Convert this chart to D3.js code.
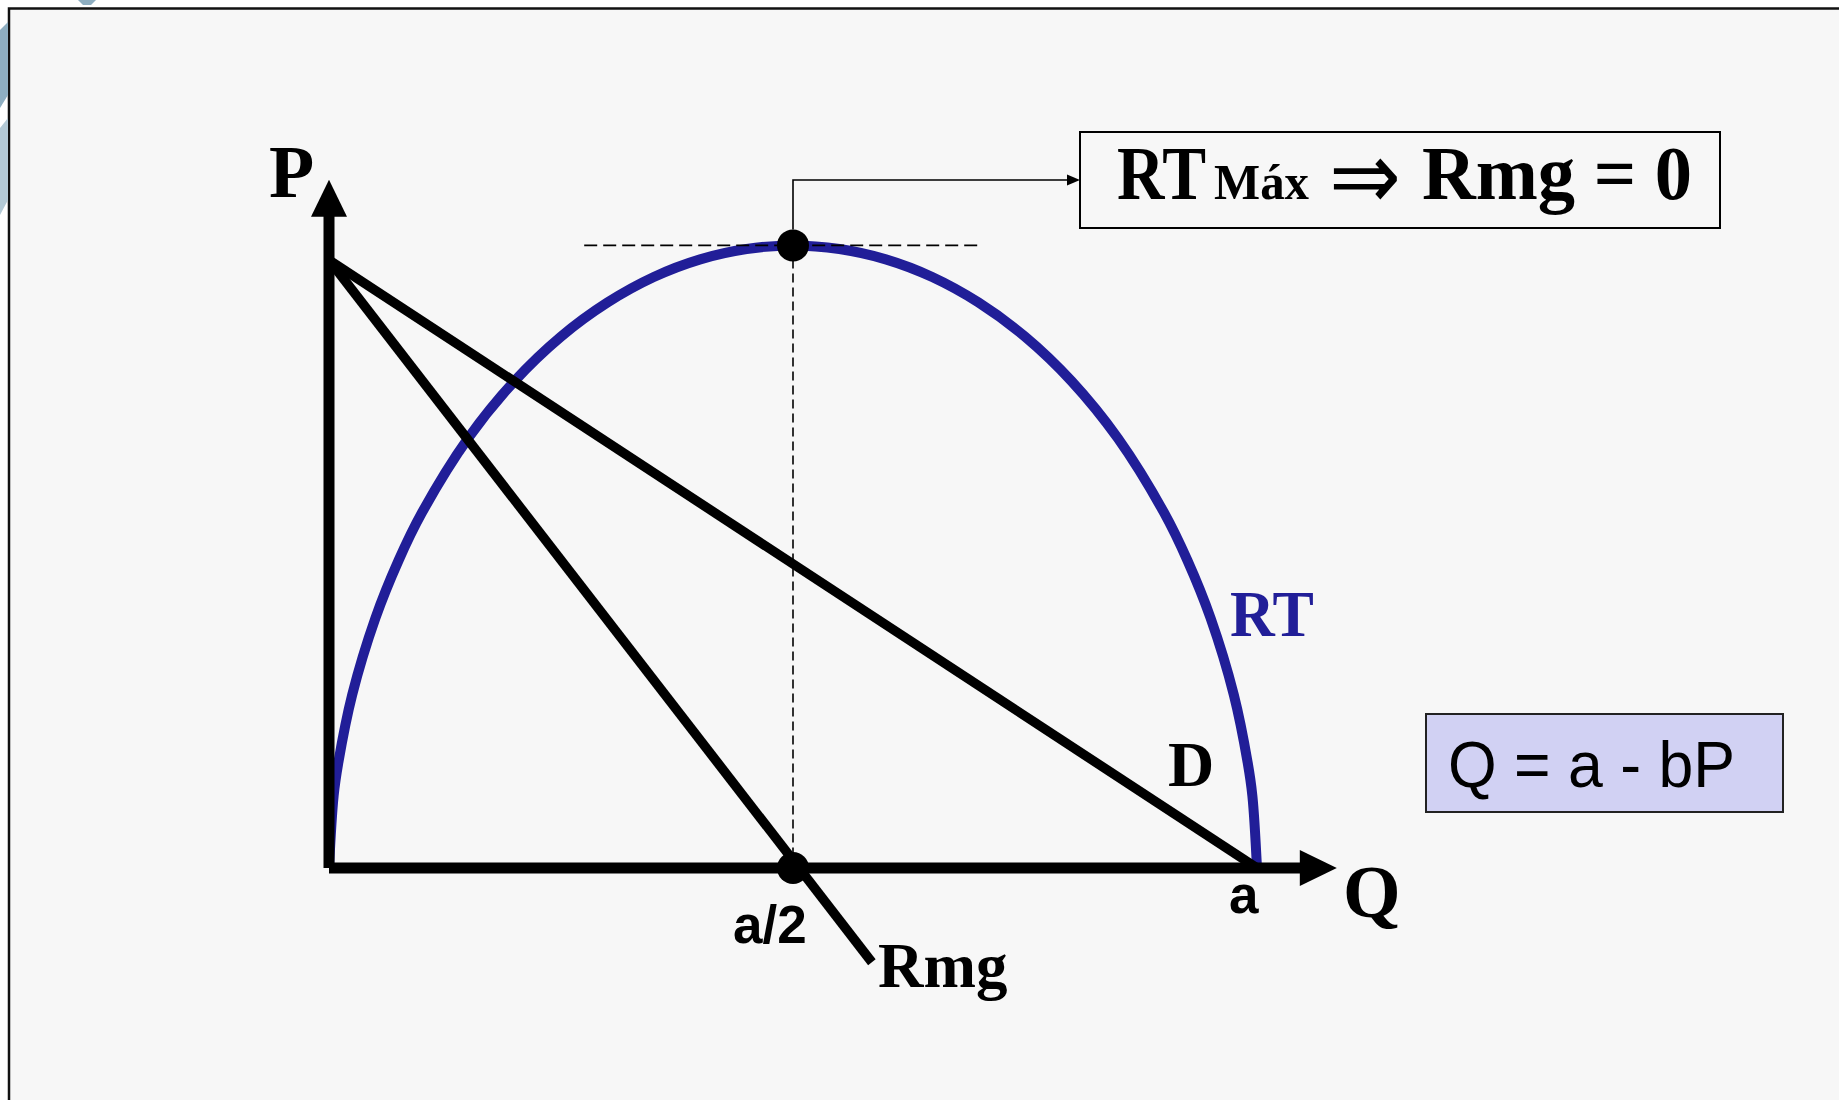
<!DOCTYPE html>
<html>
<head>
<meta charset="utf-8">
<script src="https://cdn.jsdelivr.net/npm/d3@7"></script>
<style>
  html, body { margin: 0; padding: 0; background: #fff; }
  svg { display: block; }
</style>
</head>
<body>
<svg id="chart"></svg>
<script>
//--------------------------------------------
// DATA (a = 10, P0 = 10)
//--------------------------------------------
const rtQ      = [0, 0.05, 0.1, 0.25, 0.5, 0.75, 1, 1.5, 2, 2.5, 3, 3.5, 4, 4.5, 5,
                  5.5, 6, 6.5, 7, 7.5, 8, 8.5, 9, 9.25, 9.5, 9.75, 9.9, 9.95, 10];
const rtValues = [0, 1.19, 1.73, 2.85, 4.11, 5.06, 5.84, 7.07, 8.01, 8.74, 9.30, 9.72, 10.01, 10.18, 10.24,
                  10.18, 10.01, 9.72, 9.30, 8.74, 8.01, 7.07, 5.84, 5.06, 4.11, 2.85, 1.73, 1.19, 0];

const demandQ = [0, 10];
const demandP = [10, 0];

const rmgQ = [0, 5.85];
const rmgP = [10, -1.55];

const axisEnd   = [10.86, 11.32];   // [Q, P] where the arrow tips sit
const peakQ     = 5;
const peakDash  = [2.75, 7.02];     // extent of the dashed line at RT max

const xLabels = ["a/2", "a"];
const curveLabels = ["RT", "D", "Rmg"];

//--------------------------------------------
// CONFIG
//--------------------------------------------
const width = 1839, height = 1100;
const blue = "#211e98";

const svg = d3.select("#chart")
  .attr("width", width)
  .attr("height", height)
  .attr("viewBox", [0, 0, width, height]);

const x = d3.scaleLinear().domain([0, 10]).range([329, 1257]);
const y = d3.scaleLinear().domain([0, 10]).range([868, 260]);

// slide frame + the bits of decoration poking out at top-left
svg.append("rect")
  .attr("x", 9).attr("y", 8.5)
  .attr("width", width + 20).attr("height", height + 20)
  .attr("fill", "#f7f7f7")
  .attr("stroke", "#111")
  .attr("stroke-width", 2.5);

const deco = svg.append("g");
deco.append("polygon").attr("points", "0,30 8,22 8,95 0,108").attr("fill", "#8eaec1");
deco.append("polygon").attr("points", "0,128 8,118 8,200 0,215").attr("fill", "#b3c9d5");
deco.append("polygon").attr("points", "78,0 96,0 91,5 83,5").attr("fill", "#8eaec1");

const line = d3.line()
  .x(d => x(d[0]))
  .y(d => y(d[1]));

//--------------------------------------------
// Y AXIS (P)
//--------------------------------------------
const ax = svg.append("g");
const pTip = y(axisEnd[1]);
ax.append("line")
  .attr("x1", x(0)).attr("x2", x(0))
  .attr("y1", y(0)).attr("y2", pTip + 36)
  .attr("stroke", "#000").attr("stroke-width", 11);
ax.append("polygon")
  .attr("points", [[x(0), pTip], [x(0) - 18, pTip + 37], [x(0) + 18, pTip + 37]].join(" "))
  .attr("fill", "#000");

//--------------------------------------------
// RT curve
//--------------------------------------------
svg.append("path")
  .datum(d3.zip(rtQ, rtValues))
  .attr("d", line.curve(d3.curveCatmullRom.alpha(0.5)))
  .attr("fill", "none")
  .attr("stroke", blue)
  .attr("stroke-width", 10);

line.curve(d3.curveLinear);

// dashed guides through RT max
const rtMax = d3.max(rtValues);
svg.append("line")
  .attr("x1", x(peakDash[0])).attr("x2", x(peakDash[1]))
  .attr("y1", y(rtMax)).attr("y2", y(rtMax))
  .attr("stroke", "#000").attr("stroke-width", 1.6)
  .attr("stroke-dasharray", "13,6");
svg.append("line")
  .attr("x1", x(peakQ)).attr("x2", x(peakQ))
  .attr("y1", y(rtMax)).attr("y2", y(0))
  .attr("stroke", "#000").attr("stroke-width", 1.6)
  .attr("stroke-dasharray", "9,5");

//--------------------------------------------
// D and Rmg
//--------------------------------------------
svg.append("path")
  .datum(d3.zip(demandQ, demandP))
  .attr("d", line)
  .attr("fill", "none")
  .attr("stroke", "#000")
  .attr("stroke-width", 9.5);

svg.append("path")
  .datum(d3.zip(rmgQ, rmgP))
  .attr("d", line)
  .attr("fill", "none")
  .attr("stroke", "#000")
  .attr("stroke-width", 9.5);

//--------------------------------------------
// X AXIS (Q)
//--------------------------------------------
const qTip = x(axisEnd[0]);
ax.raise();
const xa = svg.append("g");
xa.append("line")
  .attr("x1", x(0)).attr("x2", qTip - 36)
  .attr("y1", y(0)).attr("y2", y(0))
  .attr("stroke", "#000").attr("stroke-width", 11);
xa.append("polygon")
  .attr("points", [[qTip, y(0)], [qTip - 37, y(0) - 18], [qTip - 37, y(0) + 18]].join(" "))
  .attr("fill", "#000");

// dots
svg.selectAll("circle.pt")
  .data([[peakQ, rtMax], [peakQ, 0]])
  .join("circle")
    .attr("class", "pt")
    .attr("cx", d => x(d[0]))
    .attr("cy", d => y(d[1]))
    .attr("r", 16)
    .attr("fill", "#000");

//--------------------------------------------
// CALLOUT: RTMáx => Rmg = 0
//--------------------------------------------
const boxL = 1080, boxT = 132, boxR = 1720, boxB = 228;
const callY = 180;
svg.append("path")
  .attr("d", `M${x(peakQ)},${y(rtMax) - 16}V${callY}H${boxL - 12}`)
  .attr("fill", "none").attr("stroke", "#000").attr("stroke-width", 1.6);
svg.append("polygon")
  .attr("points", [[boxL, callY], [boxL - 13, callY - 5.5], [boxL - 13, callY + 5.5]].join(" "))
  .attr("fill", "#000");

svg.append("rect")
  .attr("x", boxL).attr("y", boxT)
  .attr("width", boxR - boxL).attr("height", boxB - boxT)
  .attr("fill", "none").attr("stroke", "#000").attr("stroke-width", 2);

const serif = "'Liberation Serif', 'Times New Roman', serif";
const sans = "'Liberation Sans', Arial, sans-serif";

function label(txt, px, py, size, opts = {}) {
  const t = svg.append("text")
    .attr("x", px).attr("y", py)
    .attr("font-family", opts.family || serif)
    .attr("font-weight", opts.weight || "bold")
    .attr("font-size", size)
    .attr("fill", opts.fill || "#000")
    .text(txt);
  if (opts.len) t.attr("textLength", opts.len).attr("lengthAdjust", "spacingAndGlyphs");
  return t;
}

label("RT", 1117, 199, 77, { len: 89 });
label("Máx", 1214, 199, 51, { len: 95 });
label("\u21D2", 1329, 209, 96, { family: "'DejaVu Sans', sans-serif", weight: "normal", len: 72 });
label("Rmg = 0", 1422, 199, 77, { len: 270 });

//--------------------------------------------
// Q = a - bP box
//--------------------------------------------
svg.append("rect")
  .attr("x", 1426).attr("y", 714)
  .attr("width", 357).attr("height", 98)
  .attr("fill", "#d1d1f3").attr("stroke", "#222").attr("stroke-width", 2);
label("Q = a - bP", 1448, 787, 64, { family: sans, weight: "normal", len: 287 });

//--------------------------------------------
// AXIS + CURVE LABELS
//--------------------------------------------
label("P", 269, 197, 74);
label("Q", 1343, 917, 74);
label(xLabels[0], x(peakQ) - 60, 943, 53, { family: sans });
label(xLabels[1], x(10) - 28, 913, 53, { family: sans });
label(curveLabels[0], 1230, 636, 66, { fill: blue, len: 84 });
label(curveLabels[1], 1168, 786, 64);
label(curveLabels[2], 878, 987, 63);
</script>
</body>
</html>
